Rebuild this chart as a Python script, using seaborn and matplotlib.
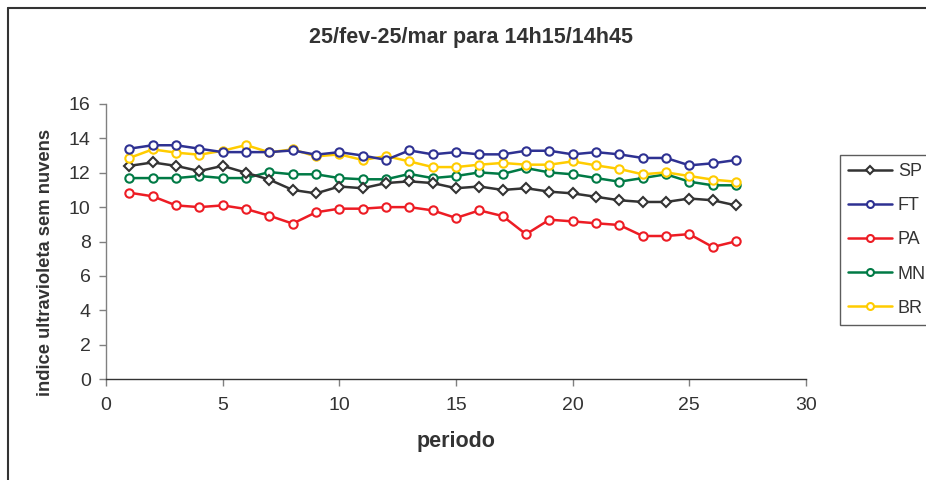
import matplotlib
matplotlib.use("Agg")
import matplotlib.pyplot as plt
import seaborn as sns
import pandas as pd
from matplotlib.lines import Line2D

periodo = list(range(1, 28))
SP = [12.4, 12.6, 12.4, 12.1, 12.4, 12.0, 11.6, 11.0, 10.8, 11.2, 11.1, 11.4, 11.5, 11.4,
      11.1, 11.2, 11.0, 11.1, 10.9, 10.8, 10.6, 10.4, 10.3, 10.3, 10.5, 10.4, 10.1]
FT = [13.4, 13.6, 13.6, 13.4, 13.2, 13.2, 13.2, 13.3, 13.05, 13.2, 13.0, 12.75, 13.3, 13.07,
      13.2, 13.07, 13.07, 13.28, 13.28, 13.07, 13.2, 13.07, 12.86, 12.86, 12.43, 12.55, 12.74]
PA = [10.84, 10.63, 10.1, 10.0, 10.1, 9.89, 9.5, 9.04, 9.7, 9.91, 9.91, 10.0, 10.0, 9.81,
      9.37, 9.81, 9.48, 8.42, 9.27, 9.17, 9.06, 8.96, 8.32, 8.32, 8.43, 7.68, 8.01]
MN = [11.69, 11.69, 11.69, 11.81, 11.69, 11.69, 12.04, 11.91, 11.91, 11.69, 11.62, 11.62, 11.93, 11.69,
      11.81, 12.02, 11.93, 12.27, 12.02, 11.91, 11.69, 11.48, 11.69, 11.91, 11.48, 11.27, 11.27]
BR = [12.86, 13.36, 13.17, 13.05, 13.28, 13.61, 13.19, 13.36, 12.95, 13.07, 12.74, 12.97, 12.66, 12.33,
      12.33, 12.47, 12.57, 12.47, 12.47, 12.66, 12.43, 12.22, 11.91, 12.02, 11.81, 11.6, 11.48]

series = {"SP": SP, "FT": FT, "PA": PA, "MN": MN, "BR": BR}
colors = {"SP": "#333333", "FT": "#2E3192", "PA": "#ED1C24", "MN": "#007A45", "BR": "#FFCC00"}
markers = {"SP": "D", "FT": "o", "PA": "o", "MN": "o", "BR": "o"}
msize = {"SP": 5, "FT": 6, "PA": 6, "MN": 6, "BR": 6}
zorder = {"PA": 3, "MN": 4, "SP": 5, "BR": 6, "FT": 7}

rows = []
for name, vals in series.items():
    for p, v in zip(periodo, vals):
        rows.append({"periodo": p, "valor": v, "serie": name})
df = pd.DataFrame(rows)

sns.set_theme(style="white")
plt.rcParams["font.family"] = ["Liberation Sans", "DejaVu Sans"]

fig = plt.figure(figsize=(9.26, 4.8), dpi=100)
ax = fig.add_axes([106/926, 1-379/480, 700/926, 275/480])

for name in series:
    sub = df[df["serie"] == name]
    sns.lineplot(data=sub, x="periodo", y="valor", ax=ax, color=colors[name],
                 marker=markers[name], markersize=msize[name], markerfacecolor="white",
                 markeredgecolor=colors[name], markeredgewidth=1.5, linewidth=1.8,
                 zorder=zorder[name], legend=False)

ax.set_xlim(0, 30)
ax.set_ylim(0, 16)
ax.set_xticks(range(0, 31, 5))
ax.set_yticks(range(0, 17, 2))
for s in ["top", "right"]:
    ax.spines[s].set_visible(False)
for s in ["left", "bottom"]:
    ax.spines[s].set_color("#808080")
    ax.spines[s].set_linewidth(1.0)
ax.spines["bottom"].set_color("#333333")
ax.tick_params(axis="both", which="major", direction="out", length=5, width=1,
               color="#808080", labelsize=14, labelcolor="#333333", left=True, bottom=True)
ax.tick_params(axis="y", pad=6)
ax.tick_params(axis="x", pad=8)

ax.set_xlabel("periodo", fontsize=15.5, fontweight="bold", color="#333333")
ax.set_ylabel("indice ultravioleta sem nuvens", fontsize=13.2, fontweight="bold", color="#333333")
ax.xaxis.set_label_coords((456-106)/700, (379-441)/275)
ax.xaxis.label.set_va("center")
ax.yaxis.set_label_coords((46-106)/700, (379-262)/275)
ax.yaxis.label.set_va("center")
fig.text(471/926, 1-38/480, "25/fev-25/mar para 14h15/14h45", ha="center", va="center",
         fontsize=15.5, fontweight="bold", color="#333333")

handles = [Line2D([0], [0], color=colors[n], marker=markers[n], markersize=msize[n]-1,
                  markerfacecolor="white", markeredgecolor=colors[n], markeredgewidth=1.5,
                  linewidth=1.8) for n in series]
leg = fig.legend(handles, list(series.keys()), loc="upper left",
                 bbox_to_anchor=(840/926, 1-155/480), frameon=True, fontsize=13,
                 handlelength=2.45, labelspacing=0.95, borderpad=0.45, handletextpad=0.3,
                 fancybox=False, borderaxespad=0)
leg.get_frame().set_edgecolor("#333333")
leg.get_frame().set_linewidth(1.0)
for t in leg.get_texts():
    t.set_color("#333333")

# outer chart-area border (top and left visible)
fig.add_artist(Line2D([8/926, 1.0], [1-8/480, 1-8/480], transform=fig.transFigure,
                      color="#333333", linewidth=1.5))
fig.add_artist(Line2D([8/926, 8/926], [0, 1-8/480], transform=fig.transFigure,
                      color="#333333", linewidth=1.5))

fig.savefig("out.png", dpi=100)
